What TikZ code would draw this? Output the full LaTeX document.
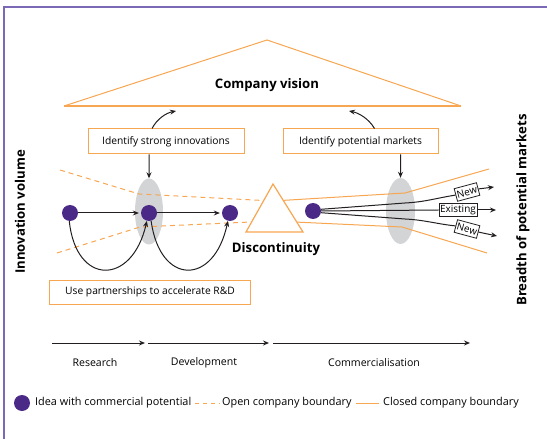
\documentclass[tikz,border=0pt]{standalone}
\usepackage{fontspec}
\setmainfont{Open Sans}
\usetikzlibrary{arrows.meta,calc,shapes.geometric,positioning}

\definecolor{frameline}{HTML}{7B69B5}
\definecolor{boundary}{HTML}{F7A651}
\definecolor{ideafill}{HTML}{4A2A86}
\definecolor{filtergray}{HTML}{D3D4D6}
\definecolor{ink}{HTML}{231F20}

\tikzset{
  idea/.style={circle,fill=ideafill,minimum size=16bp,inner sep=0pt},
  filter/.style={ellipse,fill=filtergray,inner sep=0pt},
  task/.style={draw=boundary,line width=1bp,fill=white,minimum height=25bp,
    inner sep=0pt,font=\fontsize{10.3}{12}\selectfont},
  market/.style={draw=ink,line width=0.8bp,fill=white,minimum height=13bp,
    inner sep=1.2bp,font=\fontsize{10}{11}\selectfont},
  headline/.style={font=\fontsize{13.2}{15}\selectfont\bfseries},
  phase/.style={font=\fontsize{10.6}{12}\selectfont},
  keytext/.style={anchor=west,inner sep=1bp,font=\fontsize{10.9}{12}\selectfont},
  open/.style={boundary,line width=1bp,dash pattern=on 5bp off 4bp},
  closed/.style={boundary,line width=1bp},
  flow/.style={ink,line width=1bp,-{Stealth[length=6bp,width=5bp]}},
}

\begin{document}
\begin{tikzpicture}[x=1bp,y=-1bp]
	\useasboundingbox (0,0) rectangle (547,439);

	%% Frame: only the top and left edges are drawn
	\draw[frameline,line width=2bp] (4,439) -- (4,7) -- (547,7);

	%% Company vision roof
	\coordinate (V1) at (267,40);  % apex
	\coordinate (V2) at (64,106);  % left end of base
	\coordinate (V3) at (461,106); % right end of base
	\draw[boundary,line width=1bp] (V2) -- (V1) -- (V3);
	\draw[boundary,line width=2bp] (V2) -- (V3);
	\node[headline] (vision) at (267,85) {Company vision};

	% arrow ends under the roof
	\coordinate (R1) at (176,111);
	\coordinate (R2) at (349,111);

	%% Grey filters (drawn first, everything else goes on top)
	\node[filter,minimum width=28bp,minimum height=66bp] (scan1) at (149,211.5) {};
	\node[filter,minimum width=29bp,minimum height=66bp] (scan2) at (400.5,211) {};

	%% Company boundary, open part on the left
	\draw[open] (60,170) -- (139,194) -- (273,201);
	\draw[open] (57,253) -- (140,227) -- (273,221);
	% closed part on the right
	\draw[closed] (273,201) -- (405,193) -- (489,169);
	\draw[closed] (273,221) -- (402,227) -- (487,253);

	%% Discontinuity triangle
	\coordinate (D1) at (273,184);
	\coordinate (D2) at (246,232);
	\coordinate (D3) at (303,232);
	\draw[boundary,line width=1.2bp,fill=white] (D1) -- (D2) -- (D3) -- cycle;
	\node[headline] (gap) at (276,249) {Discontinuity};

	%% Task boxes
	\node[task,minimum width=156bp] (strong) at (166,141.5) {Identify strong innovations};
	\node[task,minimum width=155bp] (markets) at (360.5,141.5) {Identify potential markets};
	\node[task,minimum width=200bp,minimum height=24bp] (partner) at (150,292)
		{Use partnerships to accelerate R\&D};

	\draw[flow] ([xshift=-14bp]strong.north) .. controls (157,119) and (166,113) .. (R1);
	\draw[flow] ([xshift=14bp]markets.north) .. controls (369,119) and (359,113) .. (R2);
	\draw[flow] ([xshift=-17bp]strong.south) -- (scan1.north);
	\draw[flow] ([xshift=40bp]markets.south) -- (scan2.north);

	%% Ideas
	\foreach \n/\x/\y in {1/70/213, 2/149/213, 3/230/213, 4/313/211}
	{
	  \node[idea] (I\n) at (\x,\y) {};
	}

	\draw[flow,shorten >=2bp] (I1) -- (I2);
	\draw[flow,shorten >=2bp] (I2) -- (I3);
	\draw[flow] (I1.-95) .. controls (76,286) and (132,286) .. (I2.-105);
	\draw[flow] (I2.-75) .. controls (160,286) and (214,286) .. (I3.-105);

	%% Markets fanning out of the last idea
	\node[market,rotate=15] (new1) at (467,192) {New};
	\node[market] (exist) at (458,210) {Existing};
	\node[market,rotate=-15] (new2) at (467,229) {New};

	\coordinate (M1) at (494,187);
	\coordinate (M2) at (496,210);
	\coordinate (M3) at (497,236);

	\draw[ink,line width=1bp] (I4.12) -- (405,203) .. controls (425,202) and (437,198) .. (new1.west);
	\draw[ink,line width=1bp] (I4.east) -- (exist.west);
	\draw[ink,line width=1bp] (I4.-12) -- (405,219) .. controls (425,220) and (437,224) .. (new2.west);
	\draw[flow] (new1.east) -- (M1);
	\draw[flow] (exist.east) -- (M2);
	\draw[flow] (new2.east) -- (M3);

	%% Axis titles
	\node[headline,rotate=90] (volume) at (20,212) {Innovation volume};
	\node[headline,rotate=90] (breadth) at (523,210) {Breadth of potential markets};

	%% Phases
	\coordinate (P0) at (52,343);
	\coordinate (P1) at (145,343);
	\coordinate (P2) at (148,343);
	\coordinate (P3) at (269,343);
	\coordinate (P4) at (273,343);
	\coordinate (P5) at (470,343);
	\draw[flow] (P0) -- (P1);
	\draw[flow] (P2) -- (P3);
	\draw[flow] (P4) -- (P5);
	\node[phase] (research) at (95,363) {Research};
	\node[phase] (develop) at (204,363) {Development};
	\node[phase] (commerce) at (374,363) {Commercialisation};

	%% Key
	\node[idea] (key) at (22,403) {};
	\node[keytext] (keyidea) at (34,403) {Idea with commercial potential};
	\node[keytext] (keyopen) at (221,403) {Open company boundary};
	\node[keytext] (keyclosed) at (382,403) {Closed company boundary};
	\draw[open,dash pattern=on 4bp off 4bp] ([xshift=3bp]keyidea.east) -- ([xshift=-1bp]keyopen.west);
	\draw[closed] ([xshift=3bp]keyopen.east) -- ([xshift=-3bp]keyclosed.west);
\end{tikzpicture}
\end{document}
